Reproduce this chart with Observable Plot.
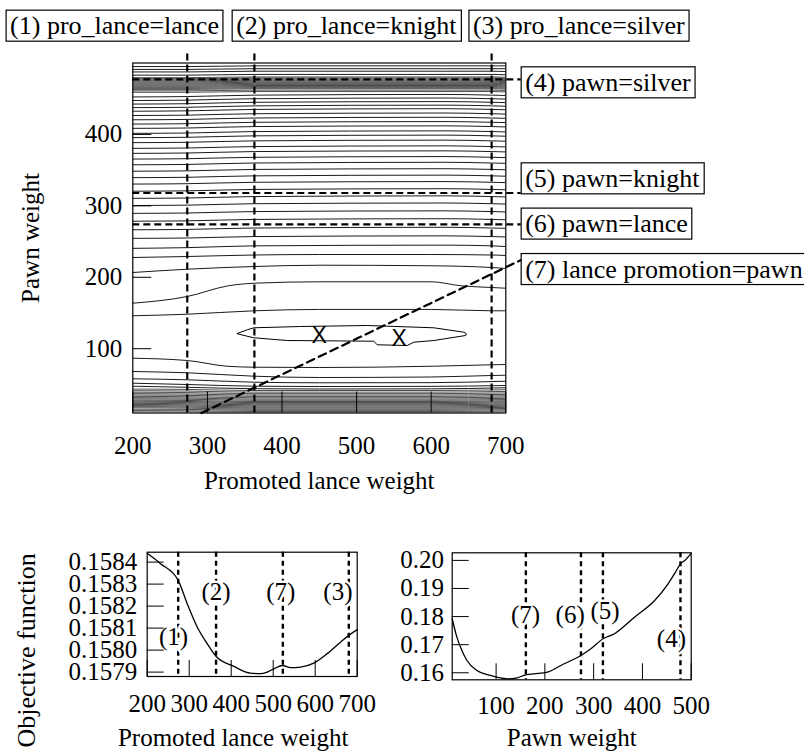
<!DOCTYPE html>
<html>
<head>
<meta charset="utf-8">
<script src="https://cdn.jsdelivr.net/npm/d3@7"></script>
<script src="https://cdn.jsdelivr.net/npm/@observablehq/plot@0.6"></script>
<style>
  body { margin: 0; background: #fff; }
  #fig { position: relative; width: 804px; height: 752px; background: #fff; font-family: "Liberation Serif", serif; }
  #fig svg { position: absolute; overflow: visible; }
  #fig svg text { font-family: "Liberation Serif", serif; }
</style>
</head>
<body>
<div id="fig"></div>
<script>
// ---- Contour map: objective function over (promoted lance weight, pawn weight) ----
// Nearly horizontal contour lines above the minimum, sampled at shared x stations.
const upperStations = [200, 273, 363, 620, 681, 700];
const upperContours = [
  [495, 495, 496, 496, 496, 496],
  [491, 491, 492, 492, 492, 492],
  [487.5, 487.5, 488.5, 488.5, 488.5, 488],
  [483, 483, 484, 484, 484, 483.5],
  [479.5, 479.5, 480.5, 480.5, 480.5, 480],
  [478, 478, 479, 479, 479, 478.5],
  [476.5, 476.5, 477.5, 477.5, 477.5, 477],
  [475, 475, 476, 476, 476, 475.5],
  [473.5, 473.5, 474.5, 474.5, 474.5, 474],
  [472, 472, 473, 473, 473, 472.5],
  [470.5, 470.5, 471.5, 471.5, 471.5, 471],
  [469, 469, 470, 470, 470, 469.5],
  [467.5, 467.5, 468.5, 468.5, 468.5, 468],
  [466, 466, 467, 467, 467, 466.5],
  [464.5, 464.5, 465.5, 465.5, 465.5, 465],
  [463, 463, 464, 464, 464, 463.5],
  [461, 461, 462, 462, 462, 461.5],
  [459, 459, 460, 460, 460, 459.5],
  [452.5, 453, 455, 456, 455, 454.5],
  [447.5, 448, 450, 451, 450, 449.5],
  [442.5, 443, 445, 446, 445, 444.5],
  [437.5, 438, 440, 441, 440, 439.5],
  [432.5, 433, 435, 436, 435, 434.5],
  [426.5, 427, 429, 430, 429, 428.5],
  [420.5, 421, 423, 424, 423, 422.5],
  [414.5, 415, 417, 418, 417, 416.5],
  [408.5, 409, 411, 412, 411, 410.5],
  [401.5, 402, 404, 405, 404, 403.5],
  [395.5, 396, 398, 399, 398, 397.5],
  [388.5, 389, 391, 392, 391, 390.5],
  [380.5, 381, 383, 384, 383, 382.5],
  [373.5, 374, 376, 377, 376, 375.5],
  [365.5, 366, 368, 369, 368, 367.5],
  [357.5, 358, 360, 361, 360, 359.5],
  [348.5, 349, 351, 352, 351, 350.5],
  [339.5, 340, 342, 343, 342, 341.5],
  [330.5, 331, 333, 334, 333, 332.5],
  [320.5, 321, 323, 324, 323, 322.5],
  [310.5, 311, 313, 314, 313, 312.5],
  [300.5, 301, 303, 304, 303, 302.5],
  [289.5, 290, 292, 293, 292, 291.5],
  [278.5, 279, 281, 282, 281, 280.5],
  [266.5, 267, 269, 270, 269, 268.5],
  [254.5, 255, 257, 258, 257, 256.5],
  [240.5, 241.5, 244, 245, 244, 243]
];
// Line weight per upper contour: the packed band near pawn ≈ 460–481 is drawn finer.
const upperWeights = [0.9, 0.9, 0.9, 0.9,
  0.7, 0.7, 0.7, 0.7, 0.7, 0.7, 0.7, 0.7, 0.7, 0.7, 0.7, 0.7, 0.7, 0.7,
  0.9, 0.9, 0.9, 0.9, 0.9, 0.9, 0.9, 0.9, 0.9, 0.9, 0.9, 0.9, 0.9, 0.9, 0.9, 0.9, 0.9, 0.9, 0.9,
  0.9, 0.9, 0.9, 0.9, 0.9, 0.9, 0.9, 0.9];

// Contours around the valley, each as [promoted lance, pawn] points.
const valleyContours = [
  [[200, 227.7], [273, 229.1], [363, 231.2], [450, 231.9], [600, 231.9], [681, 231.2], [700, 230.5]],
  [[200, 206.7], [273, 211.3], [363, 215.1], [450, 216.9], [600, 216.1], [681, 213.7], [700, 212.3]],
  [[200, 163.7], [273, 173.1], [328, 188.1], [363, 191.7], [450, 193.7], [600, 193.7], [640, 188.1], [681, 185.7], [700, 184.7]],
  [[200, 146.1], [273, 148.3], [363, 153.1], [450, 155], [600, 155], [681, 153.1], [700, 153.1]],
  [[200, 86.7], [273, 83.5], [326, 75.5], [363, 74.1], [450, 73.7], [603, 75.5], [681, 77.5], [700, 77.9]],
  [[200, 68.1], [273, 66.3], [363, 61.5], [450, 59.7], [600, 60.4], [681, 62.5], [700, 62.9]],
  [[200, 57.9], [273, 56.5], [363, 53.1], [450, 52.3], [600, 52.5], [700, 54.5]],
  [[200, 51.7], [273, 49.9], [363, 47.5], [450, 47.1], [600, 47.3], [700, 48.5]],
  [[200, 47.5], [273, 46], [363, 44], [450, 43.6], [600, 43.8], [700, 45.3]]
];

// Tightly packed contours near the lower edge (small pawn weights).
const lowerStations = [200, 273, 363, 600, 700];
const lowerContours = [
  [43.5, 43, 41.5, 41.5, 42.5],
  [41.2, 40.7, 39.2, 39.2, 40.2],
  [39.1, 38.6, 37.1, 37.1, 38.1],
  [37.1, 36.6, 35.1, 35.1, 36.1],
  [35.2, 34.7, 33.2, 33.2, 34.2],
  [33.3, 32.8, 31.3, 31.3, 32.3],
  [31.5, 31, 29.5, 29.5, 30.5],
  [29.8, 29.3, 27.8, 27.8, 28.8],
  [28.1, 27.6, 26.1, 26.1, 27.1],
  [26.6, 26.1, 24.6, 24.6, 25.6],
  [25.1, 24.6, 23.1, 23.1, 24.1],
  [23.5, 23, 21.5, 21.5, 22.5],
  [22, 21.5, 20, 20, 21],
  [20.4, 19.9, 18.4, 18.4, 19.4],
  [18.9, 18.4, 16.9, 16.9, 17.9],
  [17.3, 16.8, 15.3, 15.3, 16.3],
  [15.3, 15, 13.8, 13.8, 14.6],
  [13.4, 13.1, 12.2, 12.2, 12.8],
  [11.5, 11.3, 10.8, 10.8, 11.1]
];

// Closed contour enclosing the two minima.
const closedContour = [
  [340, 121.3], [353.4, 126.5], [362.2, 129.3], [424.8, 131.1], [514.2, 132.5],
  [603.5, 129.3], [643.7, 123.1], [647.3, 120.9], [646, 118.5], [603.5, 111.5],
  [576.7, 109.1], [567.8, 104.5], [527.6, 105.5], [523, 110.5], [407, 111.5], [362.2, 115.3]
];

// Local minima (promoted lance, pawn).
const minimaLance = [449.7, 557];
const minimaPawn = [118.5, 113.9];

// Reference weights drawn as dashed guides.
const proLanceGuides = [273, 363, 681];          // lance, knight, silver
const proLanceGuideLabels = ["(1) pro_lance=lance", "(2) pro_lance=knight", "(3) pro_lance=silver"];
const proLanceLabelX = [175.5, 486.3, 797.9];
const pawnGuides = [477, 318, 274];              // silver, knight, lance
const pawnGuideLabels = ["(4) pawn=silver", "(5) pawn=knight", "(6) pawn=lance", "(7) lance promotion=pawn"];
const pawnLabelY = [472.7, 338.3, 274.9, 211.3];
const promotionLine = [[292, 10], [720.6, 224.3]];

const xTicks = [200, 300, 400, 500, 600, 700];
const yTicks = [100, 200, 300, 400];

// ---- Slice along promoted lance weight ----
const lanceSliceX = [200, 231.7, 273.8, 295.2, 319, 342.9, 364.3, 406.3, 446, 469.8, 485.7, 501.4, 522.9, 541.2, 565, 596.7, 628.6, 660.2, 680, 700];
const lanceSliceY = [0.158440, 0.158393, 0.158317, 0.158211, 0.158105, 0.158029, 0.157971, 0.157926, 0.157895, 0.157893, 0.157900, 0.157915, 0.157930, 0.157920, 0.157923, 0.157941, 0.157984, 0.158036, 0.158067, 0.158093];
const lanceSliceGuides = [273.8, 364, 523, 680];
const lanceSliceLabels = ["(1)", "(2)", "(7)", "(3)"];
const lanceSliceLabelX = [262.6, 363.8, 518, 654];
const lanceSliceLabelY = [0.158059, 0.158264, 0.158264, 0.158264];
const lanceSliceYTicks = [0.1579, 0.1580, 0.1581, 0.1582, 0.1583, 0.1584];

// ---- Slice along pawn weight ----
const pawnSliceX = [10, 19.6, 29.9, 40.2, 60.8, 88.2, 122.7, 143.3, 161, 177.5, 205.2, 232.6, 273.8, 294.4, 319.2, 342.5, 383.7, 425, 452.6, 469.7, 478, 486.8, 500];
const pawnSliceY = [0.17922, 0.17267, 0.16794, 0.16438, 0.16082, 0.15904, 0.15786, 0.15822, 0.15929, 0.15964, 0.16021, 0.16260, 0.16616, 0.16854, 0.17210, 0.17388, 0.17979, 0.18573, 0.19167, 0.19640, 0.19879, 0.19996, 0.20250];
const pawnSliceGuides = [161, 274, 319, 478];
const pawnSliceLabels = ["(7)", "(6)", "(5)", "(4)"];
const pawnSliceLabelX = [160.4, 251.8, 323.3, 459.4];
const pawnSliceLabelY = [0.18039, 0.18039, 0.18192, 0.17210];
const pawnSliceXTicks = [100, 200, 300, 400, 500];
const pawnSliceYTicks = [0.16, 0.17, 0.18, 0.19, 0.20];

// ---------------------------------------------------------------------------
const serif = "Liberation Serif";
const fig = document.getElementById("fig");
const baseStyle = {background: "transparent", overflow: "visible", fontFamily: serif, fontSize: "25px", color: "black"};
const txt = {fontFamily: serif, fontSize: 25};

const contourRows = [
  ...upperContours.flatMap((row, i) => row.map((p, j) => ({id: "u" + i, w: upperWeights[i], x: upperStations[j], y: p}))),
  ...valleyContours.flatMap((pts, i) => pts.map(([x, y]) => ({id: "v" + i, w: 0.9, x, y}))),
  ...lowerContours.flatMap((row, i) => row.map((p, j) => ({id: "l" + i, w: 0.7, x: lowerStations[j], y: p})))
];

const dashed = {stroke: "black", strokeWidth: 2.2, strokeDasharray: "7,4"};

const main = Plot.plot({
  width: 804, height: 500,
  marginTop: 62.5, marginRight: 298.7, marginBottom: 87.5, marginLeft: 132.3,
  x: {domain: [200, 700]},
  y: {domain: [10, 500]},
  style: baseStyle,
  marks: [
    Plot.line(contourRows, {x: "x", y: "y", z: "id", strokeWidth: "w", curve: "monotone-x", stroke: "black", clip: true}),
    Plot.line(closedContour, {x: d => d[0], y: d => d[1], curve: "linear-closed", stroke: "black", strokeWidth: 1}),
    Plot.text(minimaLance, {x: d => d, y: (d, i) => minimaPawn[i], text: () => "X", fontSize: 23, ariaDescription: "minimum"}),
    Plot.ruleX(proLanceGuides, {x: d => d, y1: 10, y2: 515, ...dashed}),
    Plot.ruleY(pawnGuides, {y: d => d, x1: 200, x2: 720.6, ...dashed}),
    Plot.line(promotionLine, {x: d => d[0], y: d => d[1], stroke: "black", strokeWidth: 2.2, strokeDasharray: "8,5"}),
    Plot.frame({stroke: "black", strokeWidth: 1.2}),
    Plot.axisY(yTicks, {tickSize: -19, tickPadding: 29.6, label: null, ...txt}),
    Plot.axisX(xTicks, {tickSize: -21, tickPadding: 44.4, label: null, ...txt}),
    Plot.text(["Promoted lance weight"], {frameAnchor: "bottom", lineAnchor: "middle", textAnchor: "middle", dy: 68, ...txt}),
    Plot.text(["Pawn weight"], {frameAnchor: "left", lineAnchor: "middle", textAnchor: "middle", dx: -102, rotate: -90, ...txt}),
    Plot.text(proLanceGuideLabels, {x: (d, i) => proLanceLabelX[i], y: 552, text: d => d, fontFamily: serif, fontSize: 26, ariaDescription: "boxed"}),
    Plot.text(pawnGuideLabels, {x: 720.6, y: (d, i) => pawnLabelY[i], text: d => d, textAnchor: "start", dx: 4, fontFamily: serif, fontSize: 26, ariaDescription: "boxed"})
  ]
});
main.style.left = "0px";
main.style.top = "0px";
fig.appendChild(main);

const sliceDash = {stroke: "black", strokeWidth: 2.4, strokeDasharray: "5,4"};

const lanceSlice = Plot.plot({
  width: 400, height: 212,
  marginTop: 11.7, marginRight: 43.3, marginBottom: 76, marginLeft: 146.7,
  x: {domain: [200, 700]},
  y: {domain: [0.15788, 0.158445]},
  style: baseStyle,
  marks: [
    Plot.ruleX(lanceSliceGuides, {x: d => d, ...sliceDash}),
    Plot.line(lanceSliceX, {x: d => d, y: (d, i) => lanceSliceY[i], curve: "monotone-x", stroke: "black", strokeWidth: 1.3}),
    Plot.text(lanceSliceLabels, {x: (d, i) => lanceSliceLabelX[i], y: (d, i) => lanceSliceLabelY[i], text: d => d, stroke: "white", strokeWidth: 5, fill: "black", ...txt}),
    Plot.frame({stroke: "black", strokeWidth: 1.2}),
    Plot.axisY(lanceSliceYTicks, {tickSize: -17, tickPadding: 27, tickFormat: d3.format(".4f"), label: null, ...txt}),
    Plot.axisX(xTicks, {tickSize: -16, tickPadding: 34, label: null, ...txt}),
    Plot.text(["Promoted lance weight"], {frameAnchor: "bottom", lineAnchor: "middle", textAnchor: "middle", dy: 61.5, dx: -19, ...txt}),
    Plot.text(["Objective function"], {frameAnchor: "left", lineAnchor: "middle", textAnchor: "middle", dx: -121, dy: 36, rotate: -90, fontFamily: serif, fontSize: 26})
  ]
});
lanceSlice.style.left = "0px";
lanceSlice.style.top = "540px";
fig.appendChild(lanceSlice);

const pawnSlice = Plot.plot({
  width: 424, height: 212,
  marginTop: 12.3, marginRight: 113.3, marginBottom: 72.7, marginLeft: 71.7,
  x: {domain: [10, 500]},
  y: {domain: [0.1575, 0.2027]},
  style: baseStyle,
  marks: [
    Plot.ruleX(pawnSliceGuides, {x: d => d, ...sliceDash}),
    Plot.line(pawnSliceX, {x: d => d, y: (d, i) => pawnSliceY[i], curve: "monotone-x", stroke: "black", strokeWidth: 1.3}),
    Plot.text(pawnSliceLabels, {x: (d, i) => pawnSliceLabelX[i], y: (d, i) => pawnSliceLabelY[i], text: d => d, stroke: "white", strokeWidth: 5, fill: "black", ...txt}),
    Plot.frame({stroke: "black", strokeWidth: 1.2}),
    Plot.axisY(pawnSliceYTicks, {tickSize: -17, tickPadding: 25.1, tickFormat: d3.format(".2f"), label: null, ...txt}),
    Plot.axisX(pawnSliceXTicks, {tickSize: -16, tickPadding: 32.5, label: null, ...txt}),
    Plot.text(["Pawn weight"], {frameAnchor: "bottom", lineAnchor: "middle", textAnchor: "middle", dy: 58, ...txt})
  ]
});
pawnSlice.style.left = "380px";
pawnSlice.style.top = "540px";
fig.appendChild(pawnSlice);

// The minimum markers use a sans face.
main.querySelectorAll('g[aria-description="minimum"] text').forEach(t => {
  t.style.fontFamily = '"Liberation Sans", sans-serif';
});

// Outline the guide labels with rectangles sized to their text.
main.querySelectorAll('g[aria-description="boxed"] text').forEach(t => {
  const b = t.getBBox();
  const padX = 4, padY = 1;
  const r = document.createElementNS("http://www.w3.org/2000/svg", "rect");
  r.setAttribute("x", b.x - padX);
  r.setAttribute("y", b.y - padY);
  r.setAttribute("width", b.width + 2 * padX);
  r.setAttribute("height", b.height + 2 * padY);
  r.setAttribute("fill", "white");
  r.setAttribute("stroke", "black");
  r.setAttribute("stroke-width", 1.2);
  const tf = t.getAttribute("transform");
  if (tf) r.setAttribute("transform", tf);
  t.parentNode.insertBefore(r, t);
});
</script>
</body>
</html>
